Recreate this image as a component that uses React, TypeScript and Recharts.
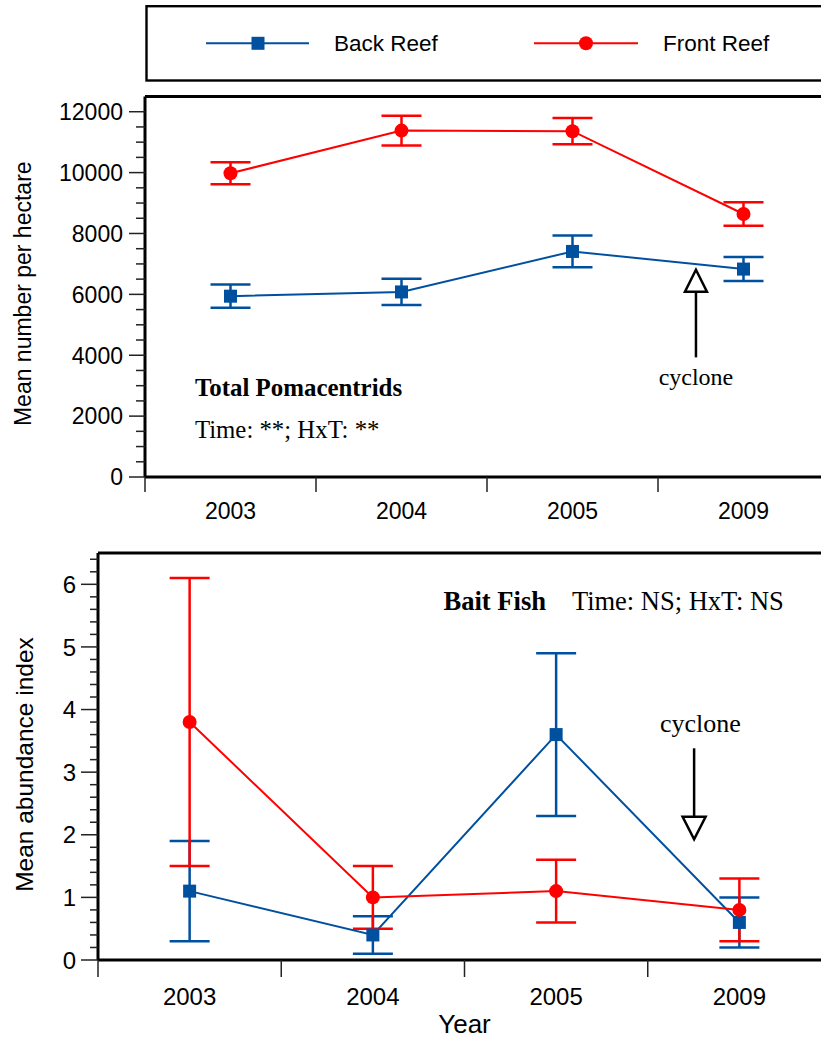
import React from "react";
import { LineChart, Line, XAxis, YAxis, ErrorBar, ReferenceLine, ReferenceDot } from "recharts";

const SANS = '"Liberation Sans", Arial, Helvetica, sans-serif';
const SERIF = '"Liberation Serif", "Times New Roman", Times, serif';
const BLUE = "#0050a0";
const RED = "#ff0000";

// ---------- data ----------
const years = ["2003", "2004", "2005", "2009"];
const seriesNames = ["Back Reef", "Front Reef"];

const pomaBack = [5940, 6080, 7410, 6830];
const pomaBackErr = [380, 430, 520, 395];
const pomaFront = [9980, 11380, 11360, 8640];
const pomaFrontErr = [360, 490, 430, 385];

const baitBack = [1.1, 0.4, 3.6, 0.6];
const baitBackErr = [0.8, 0.3, 1.3, 0.4];
const baitFront = [3.8, 1.0, 1.1, 0.8];
const baitFrontErr = [2.3, 0.5, 0.5, 0.5];

const xTicks = [0, 0.5, 1, 1.5, 2, 2.5, 3, 3.5, 4];
const pomaYTicks = [
  0, 500, 1000, 1500, 2000, 2500, 3000, 3500, 4000, 4500, 5000, 5500, 6000,
  6500, 7000, 7500, 8000, 8500, 9000, 9500, 10000, 10500, 11000, 11500, 12000,
];
const baitYTicks = [
  0, 0.2, 0.4, 0.6, 0.8, 1, 1.2, 1.4, 1.6, 1.8, 2, 2.2, 2.4, 2.6, 2.8, 3, 3.2,
  3.4, 3.6, 3.8, 4, 4.2, 4.4, 4.6, 4.8, 5, 5.2, 5.4, 5.6, 5.8, 6, 6.2, 6.4,
];

const pomaData = years.map((y, i) => ({
  pos: i + 0.5,
  year: y,
  back: pomaBack[i],
  backErr: pomaBackErr[i],
  front: pomaFront[i],
  frontErr: pomaFrontErr[i],
}));
const baitData = years.map((y, i) => ({
  pos: i + 0.5,
  year: y,
  back: baitBack[i],
  backErr: baitBackErr[i],
  front: baitFront[i],
  frontErr: baitFrontErr[i],
}));

// ---------- renderers ----------
const squareDot = (p: any) => {
  const k = `sq-${p.index}`;
  if (p.cx == null || p.cy == null) return <g key={k} />;
  return <rect key={k} x={p.cx - 6.5} y={p.cy - 6.5} width={13} height={13} fill={BLUE} />;
};
const circleDot = (p: any) => {
  const k = `ci-${p.index}`;
  if (p.cx == null || p.cy == null) return <g key={k} />;
  return <circle key={k} cx={p.cx} cy={p.cy} r={7} fill={RED} />;
};

const makeXTick = (tickLen: number, labelDy: number, fontSize: number) => (p: any) => {
  const v = p.payload.value;
  if (Number.isInteger(v)) {
    return (
      <line x1={p.x} y1={p.y} x2={p.x} y2={p.y + tickLen} stroke="#222" strokeWidth={1.5} />
    );
  }
  return (
    <text x={p.x} y={p.y + labelDy} textAnchor="middle" fontSize={fontSize} fontFamily={SANS} fill="#000">
      {years[Math.floor(v)]}
    </text>
  );
};

const makeYTick =
  (isMajor: (v: number) => boolean, majorLen: number, minorLen: number, fontSize: number, labelGap: number) =>
  (p: any) => {
    const v = p.payload.value;
    const major = isMajor(v);
    return (
      <g>
        <line x1={p.x} y1={p.y} x2={p.x - (major ? majorLen : minorLen)} y2={p.y} stroke="#222" strokeWidth={1.5} />
        {major && (
          <text x={p.x - labelGap} y={p.y} dy="0.36em" textAnchor="end" fontSize={fontSize} fontFamily={SANS} fill="#000">
            {String(Math.round(v))}
          </text>
        )}
      </g>
    );
  };

const yTitle = (text: string, fontSize: number, cxOff: number, cyOff: number) => (props: any) => {
  const vb = props.viewBox || { x: 0, y: 0, width: 0, height: 0 };
  const cx = vb.x + cxOff;
  const cy = vb.y + vb.height / 2 + cyOff;
  return (
    <text
      x={cx}
      y={cy}
      transform={`rotate(-90 ${cx} ${cy})`}
      textAnchor="middle"
      dominantBaseline="central"
      fontSize={fontSize}
      fontFamily={SANS}
      fill="#000"
    >
      {text}
    </text>
  );
};

const xTitle = (text: string, fontSize: number, baseOff: number) => (props: any) => {
  const vb = props.viewBox || { x: 0, y: 0, width: 0, height: 0 };
  return (
    <text x={vb.x + vb.width / 2} y={vb.y + baseOff} textAnchor="middle" fontSize={fontSize} fontFamily={SANS} fill="#000">
      {text}
    </text>
  );
};

const textShape = (content: React.ReactNode, fontSize: number, bold: boolean, anchor: string) => (p: any) =>
  (
    <text
      x={p.cx}
      y={p.cy}
      textAnchor={anchor}
      fontSize={fontSize}
      fontFamily={SERIF}
      fontWeight={bold ? "bold" : "normal"}
      fill="#000"
    >
      {content}
    </text>
  );

const arrowHead = (up: boolean, half: number, len: number) => (p: any) => {
  const tip = up ? p.cy - len : p.cy + len;
  return (
    <polygon
      points={`${p.cx - half},${p.cy} ${p.cx + half},${p.cy} ${p.cx},${tip}`}
      fill="#fff"
      stroke="#000"
      strokeWidth={2.5}
    />
  );
};

const isMajorPoma = (v: number) => v % 2000 === 0;
const isMajorBait = (v: number) => Math.abs(v - Math.round(v)) < 1e-6;

function Legend() {
  return (
    <svg width={821} height={90} style={{ position: "absolute", left: 0, top: 0 }}>
      <rect x={146.5} y={6.2} width={700} height={74.3} fill="#fff" stroke="#000" strokeWidth={2.4} />
      <line x1={206} y1={43.3} x2={309} y2={43.3} stroke={BLUE} strokeWidth={2} />
      <rect x={251.5} y={36.8} width={13} height={13} fill={BLUE} />
      <text x={334} y={50.7} fontSize={22.5} fontFamily={SANS} fill="#000">
        {seriesNames[0]}
      </text>
      <line x1={534} y1={43.3} x2={638} y2={43.3} stroke={RED} strokeWidth={2} />
      <circle cx={586} cy={43.3} r={7} fill={RED} />
      <text x={663} y={50.7} fontSize={22.5} fontFamily={SANS} fill="#000">
        {seriesNames[1]}
      </text>
    </svg>
  );
}

export default function App() {
  return (
    <div
      style={{
        position: "absolute",
        left: 0,
        top: 0,
        width: 821,
        height: 1040,
        overflow: "hidden",
        background: "#fff",
      }}
    >
      <Legend />

      {/* Top panel: Total Pomacentrids */}
      <div style={{ position: "absolute", left: 0, top: 90 }}>
        <LineChart width={840} height={440} data={pomaData} margin={{ top: 6.5, right: 11, bottom: 0, left: 0 }}>
          <XAxis
            type="number"
            dataKey="pos"
            domain={[0, 4]}
            ticks={xTicks}
            interval={0}
            allowDataOverflow
            tickSize={0}
            tickMargin={0}
            tickLine={false}
            axisLine={{ stroke: "#000", strokeWidth: 3 }}
            tick={makeXTick(15, 42, 23)}
            height={53}
          />
          <YAxis
            type="number"
            domain={[0, 12500]}
            ticks={pomaYTicks}
            interval={0}
            allowDataOverflow
            width={145}
            tickSize={0}
            tickMargin={0}
            tickLine={false}
            axisLine={{ stroke: "#000", strokeWidth: 3 }}
            tick={makeYTick(isMajorPoma, 16, 9, 23, 22)}
            label={yTitle("Mean number per hectare", 23, 23.3, 7)}
          />
          <ReferenceLine y={12500} stroke="#000" strokeWidth={3} />
          <ReferenceLine
            segment={[
              { x: 3.222, y: 3930 },
              { x: 3.222, y: 6087 },
            ]}
            stroke="#000"
            strokeWidth={2.5}
          />
          <ReferenceDot x={3.222} y={6087} r={0} ifOverflow="visible" shape={arrowHead(true, 11, 22)} />
          <ReferenceDot x={3.222} y={3022} r={0} ifOverflow="visible" shape={textShape("cyclone", 24, false, "middle")} />
          <ReferenceDot
            x={0.292}
            y={2670}
            r={0}
            ifOverflow="visible"
            shape={textShape("Total Pomacentrids", 24.9, true, "start")}
          />
          <ReferenceDot
            x={0.292}
            y={1291}
            r={0}
            ifOverflow="visible"
            shape={textShape("Time: **; HxT: **", 24.8, false, "start")}
          />
          <Line
            type="linear"
            dataKey="back"
            name={seriesNames[0]}
            stroke={BLUE}
            strokeWidth={2}
            dot={squareDot}
            activeDot={false}
            isAnimationActive={false}
          >
            <ErrorBar dataKey="backErr" direction="y" width={20} stroke={BLUE} strokeWidth={2.5} isAnimationActive={false} />
          </Line>
          <Line
            type="linear"
            dataKey="front"
            name={seriesNames[1]}
            stroke={RED}
            strokeWidth={2}
            dot={circleDot}
            activeDot={false}
            isAnimationActive={false}
          >
            <ErrorBar dataKey="frontErr" direction="y" width={20} stroke={RED} strokeWidth={2.5} isAnimationActive={false} />
          </Line>
        </LineChart>
      </div>

      {/* Bottom panel: Bait Fish */}
      <div style={{ position: "absolute", left: 0, top: 540 }}>
        <LineChart width={840} height={500} data={baitData} margin={{ top: 13, right: 9, bottom: 0, left: 0 }}>
          <XAxis
            type="number"
            dataKey="pos"
            domain={[0, 4]}
            ticks={xTicks}
            interval={0}
            allowDataOverflow
            tickSize={0}
            tickMargin={0}
            tickLine={false}
            axisLine={{ stroke: "#000", strokeWidth: 3 }}
            tick={makeXTick(17, 45, 24)}
            height={80}
            label={xTitle("Year", 26, 73)}
          />
          <YAxis
            type="number"
            domain={[0, 6.5]}
            ticks={baitYTicks}
            interval={0}
            allowDataOverflow
            width={98}
            tickSize={0}
            tickMargin={0}
            tickLine={false}
            axisLine={{ stroke: "#000", strokeWidth: 3 }}
            tick={makeYTick(isMajorBait, 17, 8, 24, 22)}
            label={yTitle("Mean abundance index", 24.5, 24, 8)}
          />
          <ReferenceLine y={6.5} stroke="#000" strokeWidth={3} />
          <ReferenceLine
            segment={[
              { x: 3.253, y: 3.381 },
              { x: 3.253, y: 2.288 },
            ]}
            stroke="#000"
            strokeWidth={2.5}
          />
          <ReferenceDot x={3.253} y={2.288} r={0} ifOverflow="visible" shape={arrowHead(false, 11.5, 22.6)} />
          <ReferenceDot x={3.287} y={3.646} r={0} ifOverflow="visible" shape={textShape("cyclone", 26, false, "middle")} />
          <ReferenceDot x={1.885} y={5.59} r={0} ifOverflow="visible" shape={textShape("Bait Fish", 26.6, true, "start")} />
          <ReferenceDot
            x={2.586}
            y={5.59}
            r={0}
            ifOverflow="visible"
            shape={textShape("Time: NS; HxT: NS", 26.5, false, "start")}
          />
          <Line
            type="linear"
            dataKey="back"
            name={seriesNames[0]}
            stroke={BLUE}
            strokeWidth={2}
            dot={squareDot}
            activeDot={false}
            isAnimationActive={false}
          >
            <ErrorBar dataKey="backErr" direction="y" width={20} stroke={BLUE} strokeWidth={2.5} isAnimationActive={false} />
          </Line>
          <Line
            type="linear"
            dataKey="front"
            name={seriesNames[1]}
            stroke={RED}
            strokeWidth={2}
            dot={circleDot}
            activeDot={false}
            isAnimationActive={false}
          >
            <ErrorBar dataKey="frontErr" direction="y" width={20} stroke={RED} strokeWidth={2.5} isAnimationActive={false} />
          </Line>
        </LineChart>
      </div>
    </div>
  );
}
